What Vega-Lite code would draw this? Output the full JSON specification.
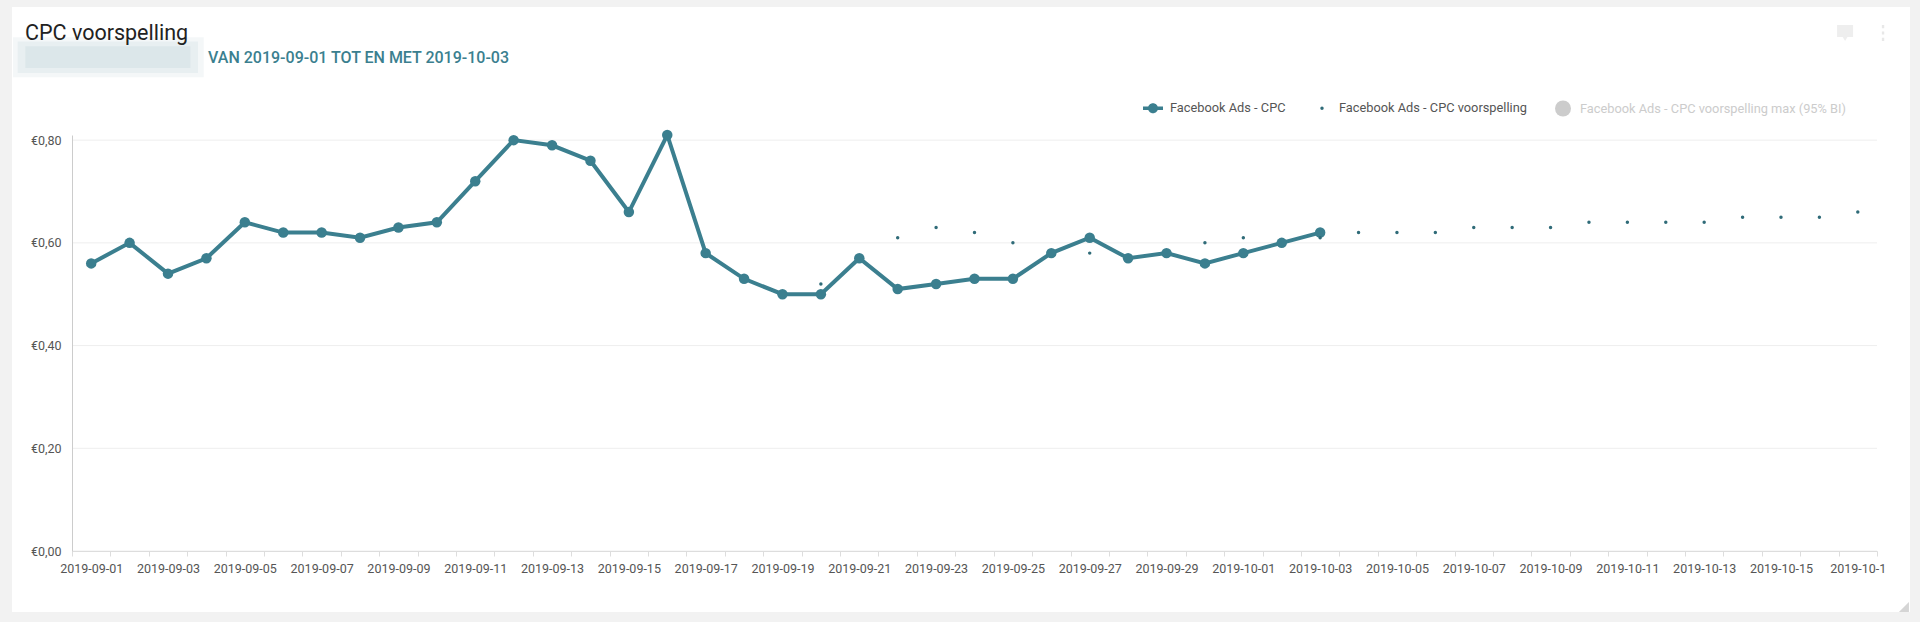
{
"$schema":"https://vega.github.io/schema/vega-lite/v6.json",
"width":1805,"height":416,
"autosize":{"type":"none"},
"padding":{"left":72,"top":135,"right":43,"bottom":71},
"background":"#f2f2f2",
"config":{"view":{"stroke":null},"font":"Roboto"},
"title":{"text":"CPC voorspelling","anchor":"start","frame":"group","dx":-47,"dy":37,"offset":0,"zindex":1,"font":"Roboto","fontSize":21.5,"fontWeight":"normal","color":"#222222"},
"datasets":{"cpc":[
{"date":"2019-09-01","series":"Facebook Ads - CPC","value":0.56},{"date":"2019-09-02","series":"Facebook Ads - CPC","value":0.60},{"date":"2019-09-03","series":"Facebook Ads - CPC","value":0.54},{"date":"2019-09-04","series":"Facebook Ads - CPC","value":0.57},{"date":"2019-09-05","series":"Facebook Ads - CPC","value":0.64},{"date":"2019-09-06","series":"Facebook Ads - CPC","value":0.62},{"date":"2019-09-07","series":"Facebook Ads - CPC","value":0.62},{"date":"2019-09-08","series":"Facebook Ads - CPC","value":0.61},{"date":"2019-09-09","series":"Facebook Ads - CPC","value":0.63},{"date":"2019-09-10","series":"Facebook Ads - CPC","value":0.64},{"date":"2019-09-11","series":"Facebook Ads - CPC","value":0.72},{"date":"2019-09-12","series":"Facebook Ads - CPC","value":0.80},{"date":"2019-09-13","series":"Facebook Ads - CPC","value":0.79},{"date":"2019-09-14","series":"Facebook Ads - CPC","value":0.76},{"date":"2019-09-15","series":"Facebook Ads - CPC","value":0.66},{"date":"2019-09-16","series":"Facebook Ads - CPC","value":0.81},{"date":"2019-09-17","series":"Facebook Ads - CPC","value":0.58},{"date":"2019-09-18","series":"Facebook Ads - CPC","value":0.53},{"date":"2019-09-19","series":"Facebook Ads - CPC","value":0.50},{"date":"2019-09-20","series":"Facebook Ads - CPC","value":0.50},{"date":"2019-09-21","series":"Facebook Ads - CPC","value":0.57},{"date":"2019-09-22","series":"Facebook Ads - CPC","value":0.51},{"date":"2019-09-23","series":"Facebook Ads - CPC","value":0.52},{"date":"2019-09-24","series":"Facebook Ads - CPC","value":0.53},{"date":"2019-09-25","series":"Facebook Ads - CPC","value":0.53},{"date":"2019-09-26","series":"Facebook Ads - CPC","value":0.58},{"date":"2019-09-27","series":"Facebook Ads - CPC","value":0.61},{"date":"2019-09-28","series":"Facebook Ads - CPC","value":0.57},{"date":"2019-09-29","series":"Facebook Ads - CPC","value":0.58},{"date":"2019-09-30","series":"Facebook Ads - CPC","value":0.56},{"date":"2019-10-01","series":"Facebook Ads - CPC","value":0.58},{"date":"2019-10-02","series":"Facebook Ads - CPC","value":0.60},{"date":"2019-10-03","series":"Facebook Ads - CPC","value":0.62}
],"forecast":[
{"date":"2019-09-20","series":"Facebook Ads - CPC voorspelling","value":0.52},{"date":"2019-09-22","series":"Facebook Ads - CPC voorspelling","value":0.61},{"date":"2019-09-23","series":"Facebook Ads - CPC voorspelling","value":0.63},{"date":"2019-09-24","series":"Facebook Ads - CPC voorspelling","value":0.62},{"date":"2019-09-25","series":"Facebook Ads - CPC voorspelling","value":0.60},{"date":"2019-09-27","series":"Facebook Ads - CPC voorspelling","value":0.58},{"date":"2019-09-30","series":"Facebook Ads - CPC voorspelling","value":0.60},{"date":"2019-10-01","series":"Facebook Ads - CPC voorspelling","value":0.61},{"date":"2019-10-03","series":"Facebook Ads - CPC voorspelling","value":0.61},{"date":"2019-10-04","series":"Facebook Ads - CPC voorspelling","value":0.62},{"date":"2019-10-05","series":"Facebook Ads - CPC voorspelling","value":0.62},{"date":"2019-10-06","series":"Facebook Ads - CPC voorspelling","value":0.62},{"date":"2019-10-07","series":"Facebook Ads - CPC voorspelling","value":0.63},{"date":"2019-10-08","series":"Facebook Ads - CPC voorspelling","value":0.63},{"date":"2019-10-09","series":"Facebook Ads - CPC voorspelling","value":0.63},{"date":"2019-10-10","series":"Facebook Ads - CPC voorspelling","value":0.64},{"date":"2019-10-11","series":"Facebook Ads - CPC voorspelling","value":0.64},{"date":"2019-10-12","series":"Facebook Ads - CPC voorspelling","value":0.64},{"date":"2019-10-13","series":"Facebook Ads - CPC voorspelling","value":0.64},{"date":"2019-10-14","series":"Facebook Ads - CPC voorspelling","value":0.65},{"date":"2019-10-15","series":"Facebook Ads - CPC voorspelling","value":0.65},{"date":"2019-10-16","series":"Facebook Ads - CPC voorspelling","value":0.65},{"date":"2019-10-17","series":"Facebook Ads - CPC voorspelling","value":0.66}
],"gridlines":[{"value":0},{"value":0.2},{"value":0.4},{"value":0.6},{"value":0.8}]},
"resolve":{"scale":{"x":"independent","y":"independent"}},
"layer":[
{
"encoding":{
"x":{"field":"x0","type":"quantitative","scale":{"domain":[0,1],"range":[-60,1838],"nice":false,"zero":false},"axis":null},
"y":{"field":"y0","type":"quantitative","scale":{"domain":[0,1],"range":[477,-128],"nice":false,"zero":false},"axis":null}
},
"layer":[
{"data":{"values":[{"x0":0,"x1":1,"y0":0,"y1":1}]},"mark":{"type":"rect","fill":"#ffffff"},"encoding":{"x2":{"field":"x1"},"y2":{"field":"y1"}}},
{"data":{"values":[{"x0":0.0005,"x1":0.101,"y0":0.884,"y1":0.95}]},"mark":{"type":"rect","fill":"#f4f7f8"},"encoding":{"x2":{"field":"x1"},"y2":{"field":"y1"}}},
{"data":{"values":[{"x0":0.003,"x1":0.098,"y0":0.891,"y1":0.943}]},"mark":{"type":"rect","fill":"#e8eff1"},"encoding":{"x2":{"field":"x1"},"y2":{"field":"y1"}}},
{"data":{"values":[{"x0":0.007,"x1":0.094,"y0":0.899,"y1":0.935}]},"mark":{"type":"rect","fill":"#dce7ea"},"encoding":{"x2":{"field":"x1"},"y2":{"field":"y1"}}},
{"data":{"values":[{"x0":0.1033,"y0":0.9165,"label":"VAN 2019-09-01 TOT EN MET 2019-10-03"}]},"mark":{"type":"text","align":"left","baseline":"middle","font":"Roboto","fontSize":16,"fontWeight":500,"fill":"#3b7f8f"},"encoding":{"text":{"field":"label"}}},
{"data":{"values":[{"x0":0.9658,"y0":0.957}]},"mark":{"type":"point","filled":true,"fill":"#eeeeee","opacity":1,"size":256,"shape":"M-1,-1H1V0.5H0.3L0,1L-0.3,0.5H-1Z"}},
{"data":{"values":[{"x0":0.9858,"y0":0.957}]},"mark":{"type":"point","filled":true,"fill":"#e8e8e8","opacity":1,"size":256,"shape":"M-.15,-1h.3v.4h-.3z M-.15,-.2h.3v.4h-.3z M-.15,.6h.3v.4h-.3z"}},
{"data":{"values":[{"x0":0.9968,"y0":0.0083}]},"mark":{"type":"point","filled":true,"fill":"#d5d5d5","opacity":1,"size":100,"shape":"M1,-1V1H-1Z"}}
]
},
{
"encoding":{
"x":{"field":"date","type":"ordinal","title":null,"sort":null,
"scale":{"type":"band","paddingInner":0,"paddingOuter":0,"domain":["2019-09-01","2019-09-02","2019-09-03","2019-09-04","2019-09-05","2019-09-06","2019-09-07","2019-09-08","2019-09-09","2019-09-10","2019-09-11","2019-09-12","2019-09-13","2019-09-14","2019-09-15","2019-09-16","2019-09-17","2019-09-18","2019-09-19","2019-09-20","2019-09-21","2019-09-22","2019-09-23","2019-09-24","2019-09-25","2019-09-26","2019-09-27","2019-09-28","2019-09-29","2019-09-30","2019-10-01","2019-10-02","2019-10-03","2019-10-04","2019-10-05","2019-10-06","2019-10-07","2019-10-08","2019-10-09","2019-10-10","2019-10-11","2019-10-12","2019-10-13","2019-10-14","2019-10-15","2019-10-16","2019-10-17"]},
"axis":{"orient":"bottom","zindex":1,"tickBand":"extent","labelAngle":0,"labelOverlap":false,"labelBound":false,"labelFlush":false,"labelAlign":"center","labelFont":"Roboto","labelFontSize":12.5,"labelColor":"#555555","labelPadding":6,"tickColor":"#dddddd","tickSize":5,"domainColor":"#dddddd","grid":false,
"labelExpr":"datum.label=='2019-10-17' ? '2019-10-1' : (toNumber(slice(datum.label,8))%2==1 ? datum.label : '')"}},
"y":{"field":"value","type":"quantitative","title":null,
"scale":{"domain":[0,0.81],"nice":false},
"axis":{"orient":"left","zindex":1,"values":[0,0.2,0.4,0.6,0.8],"ticks":false,"labelFont":"Roboto","labelFontSize":12.5,"labelColor":"#555555","labelPadding":11,"domainColor":"#cccccc","grid":false,
"labelExpr":"'€'+replace(format(datum.value,'.2f'),'.',',')"}}
},
"layer":[
{"data":{"name":"gridlines"},"mark":{"type":"rule","stroke":"#eeeeee","strokeWidth":1},"encoding":{"x":null}},
{"data":{"name":"cpc"},"mark":{"type":"line","stroke":"#3b7f8f","strokeWidth":4}},
{"data":{"name":"cpc"},"mark":{"type":"point","filled":true,"fill":"#3b7f8f","opacity":1,"size":110,"shape":"circle"}},
{"data":{"name":"forecast"},"mark":{"type":"point","filled":true,"fill":"#2f6b78","opacity":1,"size":12,"shape":"circle"}},
{"data":{"values":[]},"mark":{"type":"point","filled":true,"opacity":1},
"encoding":{
"color":{"field":"series","type":"nominal","scale":{"domain":["Facebook Ads - CPC","Facebook Ads - CPC voorspelling","Facebook Ads - CPC voorspelling max (95% BI)"],"range":["#3b7f8f","#2f6b78","#cccccc"]},
"legend":{"title":null,"orient":"none","legendX":1073,"legendY":-34.5,"direction":"horizontal","columns":3,"columnPadding":28,"labelFont":"Roboto","labelFontSize":12.8,"labelLimit":400,"labelOffset":9,"symbolStrokeWidth":0,
"labelColor":{"expr":"indexof(datum.label,'max')>=0 ? '#cccccc' : '#555555'"}}},
"shape":{"field":"series","type":"nominal","scale":{"domain":["Facebook Ads - CPC","Facebook Ads - CPC voorspelling","Facebook Ads - CPC voorspelling max (95% BI)"],"range":["M-2,-0.35H2V0.35H-2Z M-1,0A1,1 0 1 1 1,0A1,1 0 1 1 -1,0Z","circle","circle"]}},
"size":{"field":"series","type":"nominal","scale":{"type":"ordinal","domain":["Facebook Ads - CPC","Facebook Ads - CPC voorspelling","Facebook Ads - CPC voorspelling max (95% BI)"],"range":[100,12,256]}}
}}
]
}
]
}
